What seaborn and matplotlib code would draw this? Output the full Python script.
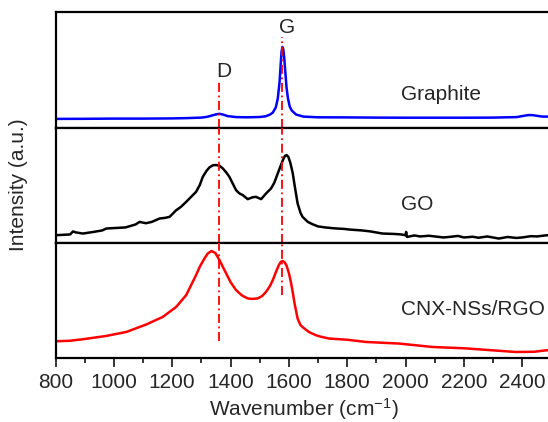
import numpy as np
import pandas as pd
import matplotlib
matplotlib.use("Agg")
import matplotlib.pyplot as plt
import seaborn as sns

# ---- data (intensity in arbitrary units) ----
graphite_x = [800, 900, 1000, 1100, 1200, 1250, 1300, 1320, 1335, 1350, 1362, 1375, 1390, 1420, 1460, 1500,
              1520, 1535, 1545, 1555, 1562, 1568, 1572, 1575, 1578, 1581, 1584, 1588, 1592, 1597, 1603,
              1610, 1625, 1650, 1700, 1800, 1900, 2000, 2100, 2200, 2300, 2380, 2400, 2420, 2435,
              2450, 2470, 2500]
graphite_y = [8.7, 8.8, 9.0, 9.0, 9.2, 9.5, 10.0, 10.8, 12.0, 13.2, 13.8, 13.0, 11.5, 10.5, 10.3, 10.6,
              11.3, 13, 15, 20, 29, 45, 63, 76, 80.5, 78, 70, 55, 40, 29, 21,
              17, 13, 11, 10.3, 10.2, 10.0, 9.9, 9.9, 9.9, 10, 10.5, 11.5, 12.5, 12.5,
              11.8, 11.0, 11.0]

go_x = [800, 830, 850, 860, 870, 894, 930, 960, 974, 1010, 1040, 1054, 1075, 1088, 1110, 1130, 1157,
        1175, 1191, 1214, 1230, 1248, 1265, 1282, 1295, 1305, 1318, 1328, 1340, 1351, 1362, 1373,
        1385, 1396, 1408, 1419, 1430, 1442, 1459, 1475, 1487, 1505, 1522, 1539, 1550, 1562, 1572,
        1580, 1586, 1592, 1598, 1605, 1613, 1620, 1630, 1640, 1647, 1665, 1681, 1700, 1727, 1760,
        1790, 1807, 1850, 1880, 1921, 1960, 1985, 2000, 2002, 2005, 2030, 2050, 2080, 2100, 2130,
        2149, 2180, 2200, 2230, 2250, 2280, 2320, 2350, 2380, 2400, 2430, 2450, 2484, 2500]
go_y = [7.7, 8.2, 8.5, 11.5, 10.5, 9.4, 11, 12.5, 14.4, 15, 15.5, 16.7, 18.5, 21, 19.7, 21, 24.4,
        25, 26, 32.7, 36, 41, 46, 51, 58, 66, 72, 75.4, 77.5, 77.7, 77, 74.5,
        70.5, 66, 59, 52.7, 49.5, 47.7, 43.7, 45.5, 46, 43.7, 49.4, 54.4, 60, 69.4, 77,
        83, 86.5, 87.7, 86, 80, 70, 57, 39.4, 30, 26, 21, 18.7, 16.5, 15.4, 14.5,
        14, 13.4, 12.5, 11.5, 9.4, 9, 8.5, 7.7, 11, 6, 7.5, 6.5, 7.2, 6.5, 5.5,
        6, 7, 5.5, 6.2, 5.2, 6.5, 4.4, 6, 5, 5.5, 6.8, 6.5, 7.7, 7.5]

cnx_x = [800, 850, 894, 974, 1043, 1111, 1168, 1214, 1248, 1282, 1295, 1311, 1322, 1335, 1348, 1362,
         1373, 1385, 1400, 1419, 1440, 1459, 1475, 1493, 1508, 1522, 1535, 1545, 1556, 1565, 1572,
         1578, 1585, 1592, 1600, 1607, 1613, 1620, 1630, 1640, 1653, 1670, 1693, 1710, 1738, 1800,
         1864, 1920, 1978, 2092, 2200, 2263, 2377, 2440, 2484, 2500]
cnx_y = [17, 17.5, 19, 22.3, 26.3, 33.7, 41.3, 51.3, 63, 83, 91.5, 99.7, 104.5, 107, 105, 98,
         91.5, 84.7, 76, 68, 62.5, 59.7, 59.2, 59.7, 62, 66.3, 72, 78, 86.3, 92.5, 96,
         97, 96, 92.5, 85, 76, 66.3, 54, 39.7, 33, 29.7, 26, 23, 21.5, 19.7, 18.5,
         16.3, 15.5, 14.7, 11.3, 10, 8.7, 6.3, 6.5, 8, 8]

sample_names = ["Graphite", "GO", "CNX-NSs/RGO"]
sample_colors = ["#0000ff", "#000000", "#ff0000"]
band_names = ["D", "G"]
band_positions = [1360, 1575]
x_ticks = [800, 1000, 1200, 1400, 1600, 1800, 2000, 2200, 2400]

# ---- style ----
sns.set_style("ticks")
plt.rcParams["font.family"] = ["Liberation Sans", "DejaVu Sans"]
plt.rcParams["mathtext.fontset"] = "custom"
plt.rcParams["mathtext.rm"] = "Liberation Sans"
plt.rcParams["mathtext.it"] = "Liberation Sans"
plt.rcParams["mathtext.default"] = "regular"
FS = 15

fig = plt.figure(figsize=(5.48, 4.22), dpi=100)
left = 55.5 / 548
width = 1700 * 0.2917 / 548
h = 0.2733
b0 = (422 - 358.3) / 422
axes = []
for i in range(3):
    ax = fig.add_axes([left, b0 + (2 - i) * h, width, h])
    axes.append(ax)

data = [(graphite_x, graphite_y), (go_x, go_y), (cnx_x, cnx_y)]
for ax, (xs, ys), name, col in zip(axes, data, sample_names, sample_colors):
    df = pd.DataFrame({"x": xs, "y": ys})
    sns.lineplot(data=df, x="x", y="y", ax=ax, color=col, lw=1.8, estimator=None, sort=True)
    ax.set_xlim(800, 2500)
    ax.set_ylim(0, 115)
    ax.set_xlabel("")
    ax.set_ylabel("")
    ax.set_yticks([])
    for s in ax.spines.values():
        s.set_linewidth(1.6)
        s.set_color("black")

for ax in axes[:2]:
    ax.tick_params(axis="x", which="both", bottom=False, labelbottom=False)

# label positions
label_baselines = [0.241, 0.29, 0.376]
for ax, name, yb in zip(axes, sample_names, label_baselines):
    ax.text(1983, yb, name, transform=ax.get_xaxis_transform(), fontsize=FS,
            ha="left", va="baseline")

# vertical band markers (extents per panel, axes fraction)
band_extents = {
    "D": [(0, 0.394), (0, 1), (0.15, 1)],
    "G": [(0, 0.785), (0, 1), (0.549, 1)],
}
ls = (0, (5, 2, 1, 2))
for name, pos in zip(band_names, band_positions):
    for ax, (ymin, ymax) in zip(axes, band_extents[name]):
        ax.axvline(pos, ymin=ymin, ymax=ymax, color="#ff0000", lw=1.3, linestyle=ls, zorder=5)

axes[0].text(1378, 0.443, "D", transform=axes[0].get_xaxis_transform(), fontsize=FS,
             ha="center", va="baseline")
axes[0].text(1594, 0.82, "G", transform=axes[0].get_xaxis_transform(), fontsize=FS,
             ha="center", va="baseline")

axb = axes[2]
axb.set_xticks(x_ticks)
axb.set_xticklabels([str(t) for t in x_ticks])
axb.set_xticks(np.arange(900, 2500, 200), minor=True)
axb.tick_params(axis="x", which="major", direction="out", length=6.5, width=1.3,
                labelsize=FS, pad=4, bottom=True)
axb.tick_params(axis="x", which="minor", direction="out", length=3.5, width=1.3, bottom=True)
axb.set_xlabel("Wavenumber (cm$^{-1}$)", fontsize=FS, labelpad=3)

fig.text(19 / 548, (422 - 185) / 422, "Intensity (a.u.)", rotation=90, fontsize=FS,
         ha="center", va="center")

fig.savefig("out.png", dpi=100)
